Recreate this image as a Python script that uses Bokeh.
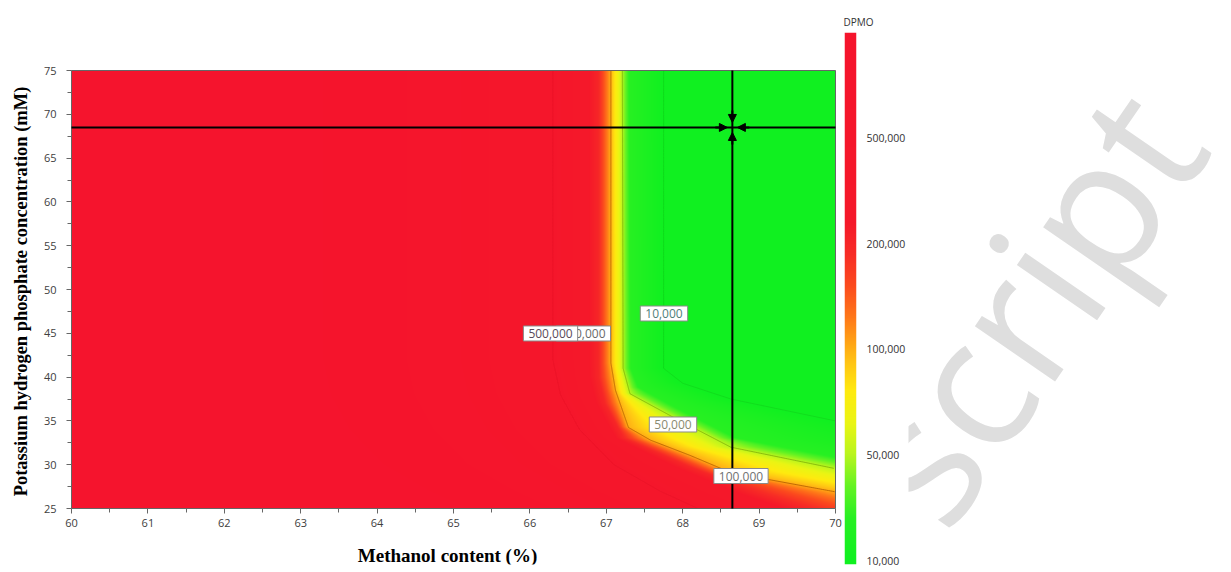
import numpy as np
from bokeh.plotting import figure
from bokeh.models import (Range1d, Arrow, NormalHead, FixedTicker)
from bokeh.layouts import row
from bokeh.embed import file_html
from bokeh.resources import INLINE
from bokeh.core.properties import value

# ---------------- data ----------------
x_label = "Methanol content (%)"
y_label = "Potassium hydrogen phosphate concentration (mM)"
cbar_title = "DPMO"

x_ticks = [60, 61, 62, 63, 64, 65, 66, 67, 68, 69, 70]
x_minor = [60.5, 61.5, 62.5, 63.5, 64.5, 65.5, 66.5, 67.5, 68.5, 69.5]
y_ticks = [25, 30, 35, 40, 45, 50, 55, 60, 65, 70, 75]
y_minor = [27.5, 32.5, 37.5, 42.5, 47.5, 52.5, 57.5, 62.5, 67.5, 72.5]

# colour bar: evenly spaced tick positions (index) and their labels
cbar_index = [0, 1, 2, 3, 4]
cbar_labels = ["10,000", "50,000", "100,000", "200,000", "500,000"]
cbar_top = 5.0

# contour curves: (KH2PO4 y, methanol x) pairs, index level t
c500_y = [75, 42, 38, 34, 30, 27, 25]
c500_x = [66.30, 66.30, 66.40, 66.65, 67.10, 67.70, 68.20]
c200_y = [75, 40, 37, 33, 29.7, 26.7, 25]
c200_x = [66.90, 66.90, 66.98, 67.23, 68.10, 68.98, 69.60]
c100_y = [75, 41.6, 38.5, 34.25, 32.8, 31.05, 29.1, 26.9, 25]
c100_x = [67.06, 67.06, 67.12, 67.29, 67.58, 68.10, 68.63, 70.0, 71.0]
c50_y = [75, 41, 38.1, 35.4, 32.0, 29.6, 27, 25]
c50_x = [67.21, 67.22, 67.31, 67.88, 68.63, 69.97, 71.5, 72.5]
cg_y = [75, 41, 38.8, 36.3, 33.0, 30.8, 28, 25]
cg_x = [67.30, 67.32, 67.42, 67.95, 68.70, 70.0, 71.8, 73.5]
c10_y = [75, 41, 39.3, 37.5, 35.0, 30, 25]
c10_x = [67.75, 67.75, 68.0, 68.63, 70.0, 72.5, 75.4]

# contour labels
lab_text = ["10,000", "50,000", "100,000", "200,000", "500,000"]
lab_x = [67.755, 67.873, 68.763, 66.70, 66.27]
lab_y = [47.26, 34.59, 28.71, 44.98, 44.98]
lab_color = ["#4f7f7a", "#8a8a70", "#707070", "#6a6a6a", "#5a4a5a"]

# crosshair (selected optimum)
cross_x = 68.65
cross_y = 68.5

# colour palette along the index scale
pal_t = [0.0, 0.4, 0.7, 1.0, 1.3, 1.6, 1.85, 2.0, 2.3, 2.6, 2.9, 3.2, 5.0]
pal_r = [16, 40, 100, 185, 235, 255, 255, 255, 255, 252, 248, 245, 245]
pal_g = [240, 240, 243, 245, 245, 235, 200, 175, 120, 75, 45, 25, 20]
pal_b = [32, 35, 35, 30, 20, 15, 20, 20, 25, 30, 38, 42, 45]


def to_rgba(t):
    t = np.clip(t, 0, cbar_top)
    img = np.empty(t.shape, dtype=np.uint32)
    v = img.view(dtype=np.uint8).reshape(t.shape + (4,))
    v[..., 0] = np.interp(t, pal_t, pal_r).astype(np.uint8)
    v[..., 1] = np.interp(t, pal_t, pal_g).astype(np.uint8)
    v[..., 2] = np.interp(t, pal_t, pal_b).astype(np.uint8)
    v[..., 3] = 255
    return img


# ---------------- field from the contour curves ----------------
X0, X1, Y0, Y1 = 60, 70, 25, 75
NX, NY = 764, 438
xs = np.linspace(X0, X1, NX)
ys = np.linspace(Y0, Y1, NY)
curves = [(c500_y, c500_x, 4.0), (c200_y, c200_x, 3.0), (c100_y, c100_x, 2.0),
          (c50_y, c50_x, 1.0), (cg_y, cg_x, 0.4), (c10_y, c10_x, 0.0)]
T = np.zeros((NY, NX))
for j, yv in enumerate(ys):
    kx = [np.interp(yv, cy[::-1], cx[::-1]) for cy, cx, _ in curves]
    kt = [t for _, _, t in curves]
    kx = [kx[0] - 3.0] + kx
    kt = [cbar_top] + kt
    T[j] = np.interp(xs, kx, kt)
field = to_rgba(T)


def clip_curve(cy, cx):
    yy = np.linspace(Y0, Y1, 1200)
    xx = np.interp(yy, cy[::-1], cx[::-1])
    keep = xx <= X1
    return xx[keep], yy[keep]


# ---------------- layout constants (px) ----------------
H = 568
TOP, BOT = 32, 4              # common borders of all panels (frames 32..564)
PLOT_L, PLOT_R = 71, 835      # plot area inside the main frame
PLOT_T, PLOT_B = 70, 508
MAIN_W = 842
px_x = (PLOT_R - PLOT_L) / (X1 - X0)
px_y = (PLOT_B - PLOT_T) / (Y1 - Y0)
x_lo = X0 - PLOT_L / px_x
x_hi = X1 + (MAIN_W - PLOT_R) / px_x
y_lo = Y0 - (H - BOT - PLOT_B) / px_y
y_hi = Y1 + (PLOT_T - TOP) / px_y

# ---------------- main plot ----------------
p = figure(width=MAIN_W, height=H, x_range=Range1d(x_lo, x_hi),
           y_range=Range1d(y_lo, y_hi), output_backend="svg",
           toolbar_location=None, min_border_left=0, min_border_right=0,
           min_border_top=TOP, min_border_bottom=BOT)
p.image_rgba(image=[field], x=X0, y=Y0, dw=X1 - X0, dh=Y1 - Y0)

line_specs = [(c500_y, c500_x, "#8a0a14", 0.08), (c100_y, c100_x, "#b05a00", 0.8),
              (c50_y, c50_x, "#6a9a00", 0.6), (c10_y, c10_x, "#109a10", 0.22)]
for cy, cx, col, al in line_specs:
    lx, ly = clip_curve(cy, cx)
    p.line(x=lx, y=ly, line_color=col, line_alpha=al, line_width=1)

# plot-area border
p.quad(left=[X0], right=[X1], bottom=[Y0], top=[Y1], fill_color=None,
       line_color="#666666", line_width=1)

# crosshair
p.segment(x0=[cross_x], y0=[Y0], x1=[cross_x], y1=[Y1], line_color="black", line_width=2)
p.segment(x0=[X0], y0=[cross_y], x1=[X1], y1=[cross_y], line_color="black", line_width=2)
for dx, dy in [(-1, 0), (1, 0), (0, 1), (0, -1)]:
    p.add_layout(Arrow(end=NormalHead(size=8, fill_color="black", line_color="black"),
                       x_start=cross_x + dx * 17 / px_x, y_start=cross_y + dy * 17 / px_y,
                       x_end=cross_x + dx * 5 / px_x, y_end=cross_y + dy * 5 / px_y,
                       line_color="black", line_width=2))

# contour labels (hidden label first, 500,000 on top of it)
for i in [0, 1, 2, 3, 4]:
    p.text(x=[lab_x[i]], y=[lab_y[i]], text=[lab_text[i]],
           text_font=value("Open Sans"), text_font_size="12px",
           text_color=lab_color[i], text_align="center", text_baseline="middle",
           background_fill_color="white", border_line_color="#8a8a8a",
           border_line_width=1, padding=(5, 3))

# axis titles (the axes sit at fixed locations, so their titles are drawn as text)
p.text(x=[X0 + (447 - PLOT_L) / px_x], y=[Y0 - 47 / px_y], text=[x_label],
       text_font=value("Liberation Serif"), text_font_style="bold",
       text_font_size="19px", text_color="black", text_align="center",
       text_baseline="middle")
p.text(x=[X0 - 51 / px_x], y=[Y1 - 221 / px_y], text=[y_label], angle=np.pi / 2,
       text_font=value("Liberation Serif"), text_font_style="bold",
       text_font_size="18.5px", text_color="black", text_align="center",
       text_baseline="middle")

p.grid.visible = False
p.outline_line_color = None
p.xaxis.fixed_location = Y0
p.yaxis.fixed_location = X0
p.xaxis.ticker = FixedTicker(ticks=x_ticks, minor_ticks=x_minor)
p.yaxis.ticker = FixedTicker(ticks=y_ticks, minor_ticks=y_minor)
for ax in (p.xaxis[0], p.yaxis[0]):
    ax.axis_line_color = None
    ax.major_tick_line_color = "#666666"
    ax.minor_tick_line_color = "#666666"
    ax.major_tick_out = 5
    ax.major_tick_in = 0
    ax.minor_tick_out = 4
    ax.minor_tick_in = 0
    ax.major_label_text_font = "Open Sans"
    ax.major_label_text_font_size = "11px"
    ax.major_label_text_color = "#404040"
p.xaxis.major_label_standoff = 5
p.yaxis.major_label_standoff = 10

# ---------------- colour bar ----------------
CBH = H - TOP - BOT
CB_PAD = 4                     # px of bar below the 10,000 tick
cb_lo = -cbar_top * CB_PAD / (CBH - CB_PAD)
cb = figure(width=66, height=H, x_range=Range1d(0, 1), y_range=Range1d(cb_lo, cbar_top),
            output_backend="svg", toolbar_location=None, x_axis_location=None,
            y_axis_location="right", title=cbar_title,
            min_border_left=2, min_border_right=48, min_border_top=TOP,
            min_border_bottom=BOT)
grad = to_rgba(np.linspace(cb_lo, cbar_top, CBH).reshape(-1, 1))
cb.image_rgba(image=[grad], x=0, y=cb_lo, dw=1, dh=cbar_top - cb_lo)
cb.grid.visible = False
cb.outline_line_color = None
cb.yaxis.ticker = FixedTicker(ticks=cbar_index)
cb.yaxis.major_label_overrides = {i: s for i, s in zip(cbar_index, cbar_labels)}
cb.yaxis.axis_line_color = None
cb.yaxis.major_tick_line_color = None
cb.yaxis.minor_tick_line_color = None
cb.yaxis.major_label_standoff = 4
cb.yaxis.major_label_text_font = "Open Sans"
cb.yaxis.major_label_text_font_size = "10.5px"
cb.yaxis.major_label_text_color = "#333333"
cb.title.text_font = "Open Sans"
cb.title.text_font_size = "10px"
cb.title.text_font_style = "normal"
cb.title.text_color = "#333333"
cb.title.align = "left"
cb.title.offset = -1
cb.title.standoff = 8

# ---------------- watermark panel ----------------
WW = 323
wm = figure(width=WW, height=H, x_range=Range1d(0, WW), y_range=Range1d(0, H - TOP - BOT),
            output_backend="svg", toolbar_location=None, x_axis_location=None,
            y_axis_location=None, min_border=0, min_border_top=TOP,
            min_border_bottom=BOT)
wm.grid.visible = False
wm.outline_line_color = None
wm.text(x=[114], y=[261], text=["script"], angle=0.967,
        text_font=value("Open Sans"), text_font_size="182px",
        text_color="#dedede", text_align="center", text_baseline="middle")

layout = row(p, cb, wm)
open("out.html", "w").write(file_html(layout, INLINE))
